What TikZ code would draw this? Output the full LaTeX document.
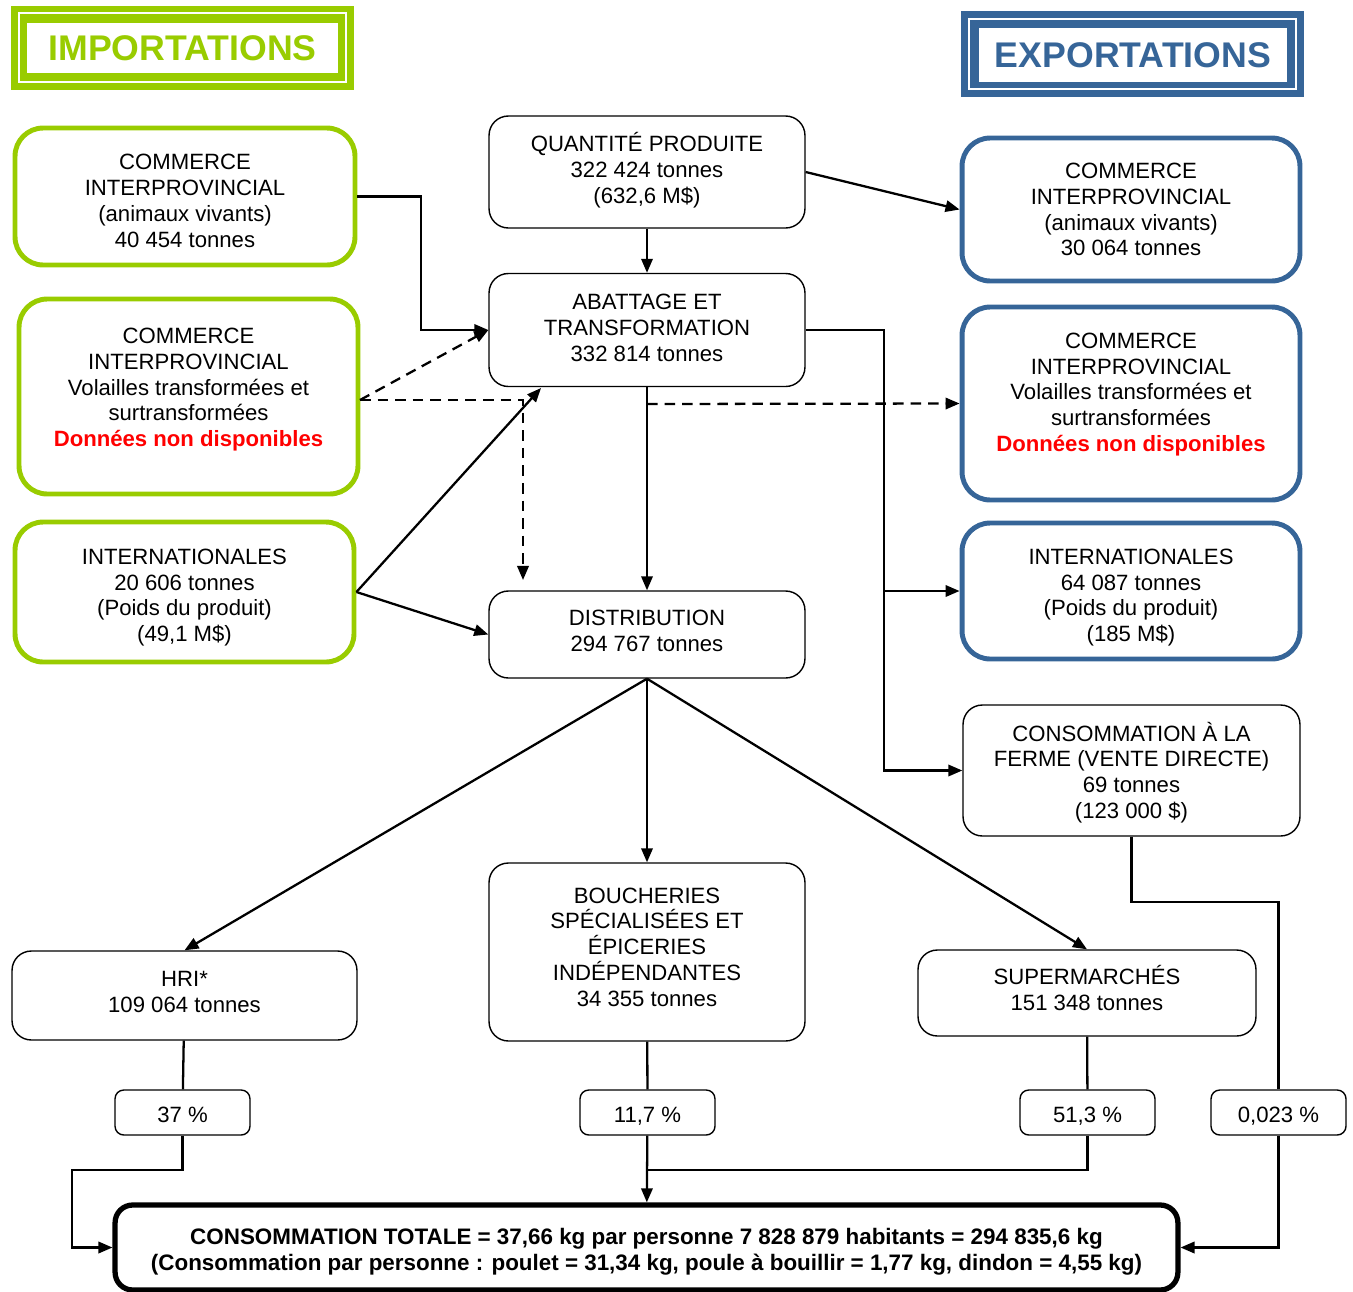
\documentclass[tikz,border=0pt]{standalone}
\usepackage{fontspec}
\setmainfont{Liberation Sans}
\usetikzlibrary{arrows.meta}
\definecolor{impgreen}{RGB}{153,204,0}
\definecolor{expblue}{RGB}{54,101,152}
\newcommand{\nondispo}{\textcolor{red}{\textbf{Données non disponibles}}}
\newcommand{\haut}[1]{\rule{0pt}{#1}}
\tikzset{
  box/.style={draw, line width=0.8pt, rounded corners=11pt, align=center,
    font=\fontsize{12.6}{14.7}\selectfont, inner sep=2pt},
  impbox/.style={box, draw=impgreen, line width=2.8pt, rounded corners=16pt},
  expbox/.style={box, draw=expblue, line width=2.8pt, rounded corners=16pt},
  pctbox/.style={box, rounded corners=5pt, minimum width=2.7cm, minimum height=0.9cm,
    text depth=0pt, text height=11pt},
  flow/.style={line width=1.3pt, -{Triangle[length=8pt,width=6.5pt]}},
  link/.style={line width=1.3pt},
  dashflow/.style={flow, dash pattern=on 6pt off 4pt},
  title/.style={font=\fontsize{20.3}{23}\selectfont\bfseries}
}

\begin{document}
\begin{tikzpicture}[x=0.02cm,y=-0.02cm]
		\useasboundingbox (0,0) rectangle (1353,1292);
		
		%%%%% TITRES %%%%%
		\fill[impgreen] (11,6) rectangle (354,90);
		\draw[white, line width=0.6pt] (19,13) rectangle (346,82);
		\fill[white] (27,23) rectangle (338,73);
		\node[title, text=impgreen] (imptitle) at (182.5,48) {IMPORTATIONS};
		
		\fill[expblue] (961,11) rectangle (1304,97);
		\draw[white, line width=0.6pt] (969,19) rectangle (1296,89);
		\fill[white] (979,28) rectangle (1287,82);
		\node[title, text=expblue] (exptitle) at (1133,55) {EXPORTATIONS};
		
		%%%%% IMPORTATIONS %%%%%
		\node[impbox, minimum width=6.8cm, minimum height=2.74cm, text depth=0pt] (imp1) at (185,196.5)
			{\haut{13.7pt}COMMERCE\\INTERPROVINCIAL\\(animaux vivants)\\40 454 tonnes};
		\node[impbox, minimum width=6.78cm, minimum height=3.9cm, text depth=10.5pt] (imp2) at (188.5,396.5)
			{COMMERCE\\INTERPROVINCIAL\\Volailles transformées et\\surtransformées\\\nondispo};
		\node[impbox, minimum width=6.78cm, minimum height=2.8cm, text depth=0pt] (imp3) at (184.5,592)
			{\haut{12.6pt}INTERNATIONALES\\20 606 tonnes\\(Poids du produit)\\(49,1 M\$)};
		
		%%%%% EXPORTATIONS %%%%%
		\node[expbox, minimum width=6.76cm, minimum height=2.86cm, text depth=0pt] (exp1) at (1131,209.5)
			{COMMERCE\\INTERPROVINCIAL\\(animaux vivants)\\30 064 tonnes};
		\node[expbox, minimum width=6.76cm, minimum height=3.86cm, text depth=12.8pt] (exp2) at (1131,403.5)
			{COMMERCE\\INTERPROVINCIAL\\Volailles transformées et\\surtransformées\\\nondispo};
		\node[expbox, minimum width=6.76cm, minimum height=2.72cm, text depth=0pt] (exp3) at (1131,591)
			{\haut{13.7pt}INTERNATIONALES\\64 087 tonnes\\(Poids du produit)\\(185 M\$)};
		
		%%%%% FILIERE %%%%%
		\node[box, minimum width=6.32cm, minimum height=2.24cm, text depth=5pt] (prod) at (647,172)
			{QUANTITÉ PRODUITE\\322 424 tonnes\\(632,6 M\$)};
		\node[box, minimum width=6.32cm, minimum height=2.26cm, text depth=2.3pt] (abat) at (647,330)
			{ABATTAGE ET\\TRANSFORMATION\\332 814 tonnes};
		\node[box, minimum width=6.32cm, minimum height=1.74cm, text depth=4.5pt] (distr) at (647,634.5)
			{DISTRIBUTION\\294 767 tonnes};
		\node[box, minimum width=6.74cm, minimum height=2.62cm, text depth=0.4pt] (ferme) at (1131.5,770.5)
			{CONSOMMATION À LA\\FERME (VENTE DIRECTE)\\69 tonnes\\(123 000 \$)};
		\node[box, minimum width=6.9cm, minimum height=1.78cm, text depth=4.5pt] (hri) at (184.5,995.5)
			{HRI*\\109 064 tonnes};
		\node[box, minimum width=6.32cm, minimum height=3.56cm, text depth=5.7pt] (bouch) at (647,952)
			{BOUCHERIES\\SPÉCIALISÉES ET\\ÉPICERIES\\INDÉPENDANTES\\34 355 tonnes};
		\node[box, minimum width=6.76cm, minimum height=1.72cm, text depth=5.7pt] (super) at (1087,993)
			{SUPERMARCHÉS\\151 348 tonnes};
		
		\node[pctbox] (p37) at (182.5,1112.5) {37 \%};
		\node[pctbox] (p117) at (647.5,1112.5) {11,7 \%};
		\node[pctbox] (p513) at (1087.5,1112.5) {51,3 \%};
		\node[pctbox] (p0023) at (1278.5,1112.5) {0,023 \%};
		
		\node[box, line width=3pt, rounded corners=10pt, minimum width=21.26cm, minimum height=1.7cm,
			font=\fontsize{12.75}{14.7}\selectfont\bfseries, text depth=0pt] (total) at (646.5,1247.5)
			{\haut{11.6pt}CONSOMMATION TOTALE = 37,66 kg par personne 7 828 879 habitants = 294 835,6 kg\\
			(Consommation par personne : poulet = 31,34 kg, poule à bouillir = 1,77 kg, dindon = 4,55 kg)};
		
		%%%%% FLECHES %%%%%
		\coordinate (imprise) at (421,196.5);
		\coordinate (expdown) at (884,330);
		\coordinate (expint) at (884,591);
		\coordinate (dashstart) at (647,404);
		\coordinate (volout) at (360,400);
		\coordinate (dashturn) at (523,400);
		\coordinate (dashend) at (523,580);
		\coordinate (abatin) at (541,388);
		
		\draw[flow] (imp1.east) -- (imprise) |- (abat.west);
		\draw[flow] (prod) -- (abat);
		\draw[flow] (prod.east) -- (exp1.west);
		\draw[flow] (abat.east) -- (expdown) |- (ferme.west);
		\draw[flow] (expint) -- (exp3.west);
		\draw[flow] (abat) -- (distr);
		\draw[dashflow] (dashstart) -- (exp2.west);
		\draw[dashflow] (volout) -- (abat.west);
		\draw[dashflow] (volout) -- (dashturn) -- (dashend);
		\draw[flow] (imp3.east) -- (abatin);
		\draw[flow] (imp3.east) -- (distr.west);
		
		\draw[flow] (distr.south) -- (hri.north);
		\draw[flow] (distr.south) -- (bouch.north);
		\draw[flow] (distr.south) -- (super.north);
		
		\draw[link] (hri) -- (p37);
		\draw[link] (bouch) -- (p117);
		\draw[link] (super) -- (p513);
		\draw[link] (ferme.south) |- (1278.5,902) -- (p0023.north);
		
		\draw[flow] (p37.south) -- (182.5,1170) -| (72,1247.5) -- (total.west);
		\draw[flow] (p117) -- (total);
		\draw[link] (p513.south) |- (647.5,1170);
		\draw[flow] (p0023.south) |- (total.east);
		
	\end{tikzpicture}
\end{document}
